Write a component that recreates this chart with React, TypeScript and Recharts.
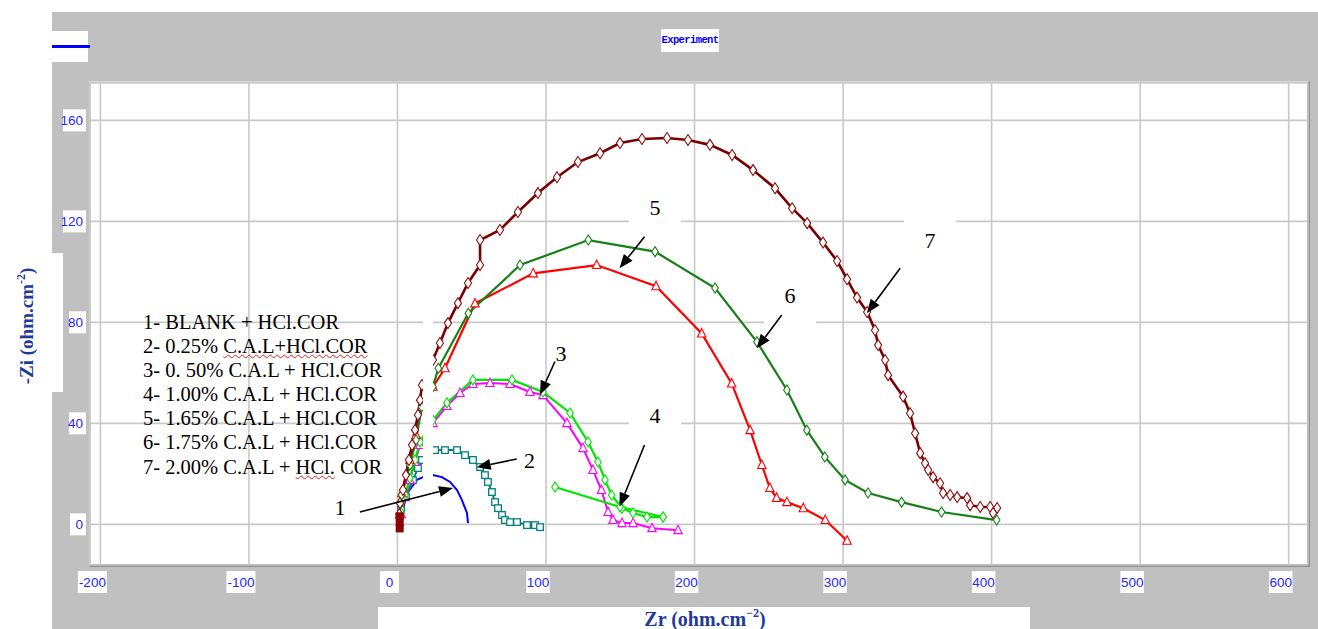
import React from 'react';
import {
  ComposedChart, Line, Scatter, XAxis, YAxis, CartesianGrid,
  ReferenceArea, ReferenceLine, ReferenceDot,
} from 'recharts';

// ---------- data (Zr, -Zi) in ohm.cm^-2 ----------
const X_TICKS = [-200, -100, 0, 100, 200, 300, 400, 500, 600];
const Y_TICKS = [0, 40, 80, 120, 160];

const S1_BLANK = [
  { x: 1.5, y: 2.5 }, { x: 4.4, y: 7.6 }, { x: 7, y: 12.8 }, { x: 9.8, y: 14.9 },
  { x: 13.1, y: 17.6 }, { x: 17.2, y: 18.7 }, { x: 23.9, y: 19.5 }, { x: 29.9, y: 18.7 },
  { x: 35.4, y: 16.8 }, { x: 40.1, y: 13.6 }, { x: 43.4, y: 9.6 }, { x: 46.8, y: 4.5 },
  { x: 47.5, y: 0.5 },
];
const S2_025 = [
  { x: 2.4, y: 5.7 }, { x: 5.7, y: 10.8 }, { x: 10.4, y: 17.5 }, { x: 13.8, y: 22.3 },
  { x: 16.5, y: 25.5 }, { x: 25.3, y: 29.4 }, { x: 32, y: 29.4 }, { x: 40.1, y: 29.4 },
  { x: 45.5, y: 27.4 }, { x: 50.8, y: 25.5 }, { x: 55.6, y: 22.7 }, { x: 58.9, y: 19.5 },
  { x: 60.9, y: 16.8 }, { x: 63.6, y: 12.8 }, { x: 65.7, y: 8.8 }, { x: 67.7, y: 6.4 },
  { x: 70.4, y: 3.7 }, { x: 72.4, y: 1.7 }, { x: 75.8, y: 0.9 }, { x: 80.5, y: 0.9 },
  { x: 87.2, y: -0.3 }, { x: 92.6, y: -0.3 }, { x: 96, y: -1.1 },
];
const S3_050 = [
  { x: 2.5, y: 4 }, { x: 5.1, y: 10.8 }, { x: 8.4, y: 17.6 }, { x: 11.8, y: 24.7 },
  { x: 15.2, y: 31.4 }, { x: 23.9, y: 40.1 }, { x: 33.3, y: 46.9 }, { x: 42.1, y: 52 },
  { x: 50.8, y: 55.6 }, { x: 62.3, y: 56 }, { x: 75.8, y: 55.6 }, { x: 89.2, y: 52.4 },
  { x: 98, y: 51.2 }, { x: 114.1, y: 40.1 }, { x: 124.9, y: 30.2 }, { x: 131.6, y: 21.5 },
  { x: 137.3, y: 13.6 }, { x: 141.8, y: 4.9 }, { x: 145.1, y: 1.7 }, { x: 151.2, y: 0.5 },
  { x: 158.6, y: 0.5 }, { x: 171.4, y: -1.5 }, { x: 188.9, y: -2.3 },
];
const S4_100 = [
  { x: 2.5, y: 4.5 }, { x: 5.1, y: 11.6 }, { x: 8.4, y: 18.3 }, { x: 11.8, y: 25.5 },
  { x: 15.2, y: 32.6 }, { x: 23.9, y: 41.3 }, { x: 33.3, y: 48.1 }, { x: 50.8, y: 57.2 },
  { x: 77.1, y: 57.2 }, { x: 98, y: 52.4 }, { x: 116.2, y: 44.1 }, { x: 128.3, y: 32.6 },
  { x: 135, y: 24.7 }, { x: 139.7, y: 17.6 }, { x: 144.2, y: 11.6 }, { x: 151.2, y: 6.4 },
  { x: 158.6, y: 4.5 }, { x: 168, y: 2.9 }, { x: 178.8, y: 2.9 },
];
const S4_100_TAIL = [
  { x: 106.1, y: 14.8 }, { x: 149.8, y: 6.9 }, { x: 178.8, y: 2.9 },
];
const S5_165 = [
  { x: 1.5, y: 4 }, { x: 2.8, y: 12.3 }, { x: 8.4, y: 25.5 }, { x: 12.5, y: 35.4 },
  { x: 16.3, y: 46.6 }, { x: 23.9, y: 54.5 }, { x: 32, y: 61.8 }, { x: 52.2, y: 87.5 },
  { x: 91.4, y: 99.4 }, { x: 134.1, y: 102.7 }, { x: 174.1, y: 94.3 }, { x: 204.8, y: 75.6 },
  { x: 225, y: 55.8 }, { x: 237.4, y: 37.3 }, { x: 245.3, y: 23.5 }, { x: 250.7, y: 14.4 },
  { x: 255.2, y: 10.5 }, { x: 262.2, y: 8.8 }, { x: 273.2, y: 6.4 }, { x: 288, y: 1.7 },
  { x: 302.7, y: -6.5 },
];
const S6_175 = [
  { x: 1.5, y: 4 }, { x: 2.8, y: 11.6 }, { x: 8.4, y: 23.5 }, { x: 12.5, y: 33.4 },
  { x: 16.3, y: 46.6 }, { x: 23.9, y: 54.5 }, { x: 27.5, y: 61.8 }, { x: 47.7, y: 83.6 },
  { x: 82.5, y: 102.7 }, { x: 128.5, y: 112.6 }, { x: 173.4, y: 108 }, { x: 213.8, y: 93.6 },
  { x: 242, y: 72.3 }, { x: 262.2, y: 53.2 }, { x: 275.6, y: 37.3 }, { x: 287.7, y: 26.7 },
  { x: 301.3, y: 17.6 }, { x: 316.8, y: 12.4 }, { x: 339.4, y: 8.8 }, { x: 366.3, y: 4.9 },
  { x: 403.4, y: 1.7 },
];
const S7_200 = [
  { x: 1.2, y: 4 }, { x: 1.7, y: 8.4 }, { x: 3.7, y: 13.6 }, { x: 5.7, y: 19.5 }, { x: 7.7, y: 25.5 },
  { x: 9.8, y: 31.4 }, { x: 11.8, y: 37.4 }, { x: 13.8, y: 43.3 }, { x: 15.2, y: 49.2 },
  { x: 16.5, y: 55.2 }, { x: 23.9, y: 65.1 }, { x: 28.6, y: 71.8 }, { x: 34, y: 79.7 },
  { x: 40.7, y: 87.6 }, { x: 47.5, y: 95.6 }, { x: 55.6, y: 102.7 }, { x: 55.6, y: 112.6 },
  { x: 69, y: 116.6 }, { x: 81.1, y: 123.7 }, { x: 94.6, y: 131.2 }, { x: 107.4, y: 137.5 },
  { x: 121.5, y: 143.5 }, { x: 136.4, y: 147 }, { x: 149.8, y: 151 }, { x: 164.6, y: 152.6 },
  { x: 181.5, y: 153 }, { x: 195.6, y: 152.2 }, { x: 210.4, y: 150.3 }, { x: 225.3, y: 146.3 },
  { x: 239.4, y: 140.3 }, { x: 254.2, y: 133.1 }, { x: 265.7, y: 125.2 }, { x: 275.8, y: 119.3 },
  { x: 286.5, y: 111.6 }, { x: 296, y: 104.3 }, { x: 302.7, y: 97.1 }, { x: 309.4, y: 89.8 },
  { x: 316.2, y: 84.1 }, { x: 321.5, y: 76.9 }, { x: 323.6, y: 71 }, { x: 328.3, y: 65.1 },
  { x: 330.3, y: 59.1 }, { x: 340.4, y: 50.6 }, { x: 345.1, y: 44 }, { x: 348.5, y: 36.1 },
  { x: 351.9, y: 28.2 }, { x: 355.2, y: 24.2 }, { x: 357.3, y: 21.5 }, { x: 360.6, y: 18.7 },
  { x: 365.3, y: 16.3 }, { x: 367.3, y: 12.4 }, { x: 372.1, y: 11.6 }, { x: 376.8, y: 10.8 },
  { x: 383.5, y: 10.4 }, { x: 385.5, y: 7.6 }, { x: 392.3, y: 6.9 }, { x: 399, y: 6.9 },
  { x: 403.7, y: 6.5 }, { x: 401, y: 4.5 },
];
const ORIGIN_POINTS = [{ x: 1.5, y: 3.2 }, { x: 1.5, y: 0.8 }, { x: 1.5, y: -1.6 }];

const LEGEND_LINES = [
  '1- BLANK + HCl.COR',
  '2- 0.25% C.A.L+HCl.COR',
  '3- 0. 50% C.A.L + HCl.COR',
  '4- 1.00% C.A.L + HCl.COR',
  '5- 1.65% C.A.L + HCl.COR',
  '6- 1.75% C.A.L + HCl.COR',
  '7- 2.00% C.A.L + HCl. COR',
];

// annotation labels and arrows, in data units
const LABELS = [
  { t: '1', x: -38.7, y: 6.9 }, { t: '2', x: 88.9, y: 25.5 }, { t: '3', x: 110.1, y: 68 },
  { t: '4', x: 173.4, y: 43.4 }, { t: '5', x: 173.4, y: 125.7 }, { t: '6', x: 264.3, y: 90.8 },
  { t: '7', x: 358.6, y: 112.6 },
];
const ARROWS = [
  [{ x: -25.3, y: 4.9 }, { x: 37.4, y: 14.4 }],
  [{ x: 80.3, y: 25.9 }, { x: 53.3, y: 22.6 }],
  [{ x: 106, y: 64.5 }, { x: 96, y: 51.3 }],
  [{ x: 166.3, y: 31.4 }, { x: 149.5, y: 7 }],
  [{ x: 166.3, y: 113.9 }, { x: 149.5, y: 101.4 }],
  [{ x: 258.7, y: 82.9 }, { x: 241.9, y: 69.7 }],
  [{ x: 338.4, y: 101.4 }, { x: 316, y: 83.6 }],
];
const LABEL_BOXES = ['4', '5', '6', '7'];

// ---------- marker shapes ----------
const diamond = (color: string, hw: number, hh: number) => (p: any) => {
  const { cx, cy, index } = p;
  if (cx == null || cy == null) return <g key={`d${index}`} />;
  return (
    <path key={`d${index}`} d={`M${cx},${cy - hh}L${cx + hw},${cy}L${cx},${cy + hh}L${cx - hw},${cy}Z`}
      fill="#fff" stroke={color} strokeWidth={1.1} />
  );
};
const triangle = (color: string) => (p: any) => {
  const { cx, cy, index } = p;
  if (cx == null || cy == null) return <g key={`t${index}`} />;
  return (
    <path key={`t${index}`} d={`M${cx},${cy - 5}L${cx + 4.2},${cy + 3.5}L${cx - 4.2},${cy + 3.5}Z`}
      fill="#fff" stroke={color} strokeWidth={1.1} />
  );
};
const square = (color: string) => (p: any) => {
  const { cx, cy, index } = p;
  if (cx == null || cy == null) return <g key={`s${index}`} />;
  return <rect key={`s${index}`} x={cx - 3.3} y={cy - 3.3} width={6.6} height={6.6} fill="#fff" stroke={color} strokeWidth={1.3} />;
};

const TICK_FONT = "'Liberation Sans Narrow', 'Arial Narrow', 'Liberation Sans', sans-serif";
const TICK_COLOR = '#2626ff';

const XTick = (p: any) => {
  const { x, y, payload } = p;
  const label = String(payload.value);
  const w = Math.max(19, label.length * 5.5 + 7);
  const cx = x - 8;
  return (
    <g>
      <rect x={cx - w / 2} y={y + 6} width={w} height={22} fill="#fff" />
      <text x={cx} y={y + 22} textAnchor="middle" fontSize={13.5} fill={TICK_COLOR} fontFamily={TICK_FONT}>{label}</text>
    </g>
  );
};
const YTick = (p: any) => {
  const { x, y, payload } = p;
  const label = String(payload.value);
  const w = Math.max(16, label.length * 6 + 5);
  return (
    <g>
      <rect x={x - 4 - w} y={y - 11} width={w} height={22} fill="#fff" />
      <text x={x - 7} y={y + 4.8} textAnchor="end" fontSize={13.5} fill={TICK_COLOR} fontFamily={TICK_FONT}>{label}</text>
    </g>
  );
};

const ArrowShape = (p: any) => {
  const { x1, y1, x2, y2 } = p;
  if ([x1, y1, x2, y2].some((v) => v == null || isNaN(v))) return <g />;
  const a = Math.atan2(y2 - y1, x2 - x1);
  const L = 14, W = 5.5;
  const bx = x2 - L * Math.cos(a), by = y2 - L * Math.sin(a);
  const px = -Math.sin(a), py = Math.cos(a);
  return (
    <g>
      <line x1={x1} y1={y1} x2={bx} y2={by} stroke="#000" strokeWidth={1.6} />
      <path d={`M${x2},${y2}L${bx + W * px},${by + W * py}L${bx - W * px},${by - W * py}Z`} fill="#000" />
    </g>
  );
};

const SERIF = "'Liberation Serif', 'Times New Roman', serif";
const AXIS_LABEL_COLOR = '#1f3b9a';

export default function App() {
  return (
    <div style={{ position: 'absolute', left: 0, top: 0, width: 1318, height: 629, background: '#fff', overflow: 'hidden' }}>
      {/* gray frame */}
      <div style={{ position: 'absolute', left: 52, top: 12, width: 1266, height: 617, background: '#c0c0c0' }} />
      {/* plot frame */}
      <div style={{
        position: 'absolute', left: 89, top: 81, width: 1221, height: 486, boxSizing: 'border-box', background: '#fff',
        borderTop: '2px solid #d6d6d6', borderLeft: '2px solid #d6d6d6', borderRight: '3px solid #8f8f8f', borderBottom: '3px solid #8f8f8f',
      }} />
      {/* legend swatch top-left */}
      <div style={{ position: 'absolute', left: 52, top: 31, width: 36, height: 31, background: '#fff' }} />
      <div style={{ position: 'absolute', left: 52, top: 45, width: 38, height: 3, background: '#0000ff' }} />
      {/* title */}
      <div style={{
        position: 'absolute', left: 661, top: 29, width: 58, height: 23, background: '#fff', color: '#0000ff',
        fontFamily: "'Liberation Mono', 'DejaVu Sans Mono', monospace", fontWeight: 'bold', fontSize: 10.5,
        lineHeight: '23px', textAlign: 'center', letterSpacing: -0.6,
      }}>Experiment</div>
      {/* axis label boxes */}
      <div style={{ position: 'absolute', left: 52, top: 253, width: 11, height: 139, background: '#fff' }} />
      <div style={{ position: 'absolute', left: 378, top: 607, width: 652, height: 22, background: '#fff' }} />

      <div style={{ position: 'absolute', left: 0, top: 0 }}>
        <ComposedChart width={1318} height={629} margin={{ top: 83, right: 10, bottom: 34, left: 30 }}>
          <CartesianGrid stroke="#c9c9c9" strokeWidth={1.6} fill="none" />
          <XAxis type="number" dataKey="x" domain={[-207, 613]} ticks={X_TICKS} allowDataOverflow
            axisLine={false} tickLine={false} tickSize={0} tickMargin={0} height={30} tick={<XTick />} interval={0} />
          <YAxis type="number" dataKey="y" domain={[-16.1, 174.8]} ticks={Y_TICKS} allowDataOverflow
            axisLine={false} tickLine={false} tickSize={0} tickMargin={0} width={60} tick={<YTick />} interval={0} />

          {LABEL_BOXES.map((t) => {
            const l = LABELS.find((q) => q.t === t)!;
            return (
              <ReferenceArea key={`box${t}`} x1={l.x - 17.5} x2={l.x + 17.5} y1={l.y - 11.9} y2={l.y + 11.9}
                fill="#fff" fillOpacity={1} stroke="none" ifOverflow="visible" />
            );
          })}

          <Line data={S1_BLANK} dataKey="y" stroke="#0000ff" strokeWidth={2} dot={false} activeDot={false} isAnimationActive={false} />
          <Line data={S2_025} dataKey="y" stroke="#008080" strokeWidth={2} dot={square('#008080')} activeDot={false} isAnimationActive={false} />
          <Line data={S3_050} dataKey="y" stroke="#ff00ff" strokeWidth={2} dot={triangle('#ff00ff')} activeDot={false} isAnimationActive={false} />
          <Line data={S4_100} dataKey="y" stroke="#00e600" strokeWidth={2.2} dot={diamond('#00e600', 3.3, 5)} activeDot={false} isAnimationActive={false} />
          <Line data={S4_100_TAIL} dataKey="y" stroke="#00e600" strokeWidth={2.2} dot={diamond('#00e600', 3.3, 5)} activeDot={false} isAnimationActive={false} />
          <Line data={S5_165} dataKey="y" stroke="#ff0000" strokeWidth={2.2} dot={triangle('#ff0000')} activeDot={false} isAnimationActive={false} />
          <Line data={S6_175} dataKey="y" stroke="#168016" strokeWidth={2.2} dot={diamond('#168016', 3.3, 5)} activeDot={false} isAnimationActive={false} />
          <Line data={S7_200} dataKey="y" stroke="#7a0000" strokeWidth={2.6} dot={diamond('#8a1010', 3.6, 5.5)} activeDot={false} isAnimationActive={false} />
          <Scatter data={ORIGIN_POINTS} dataKey="y" isAnimationActive={false}
            shape={(p: any) => <rect x={p.cx - 4} y={p.cy - 4} width={8} height={8} fill="#8b0000" />} />

          {/* white gap strip near the origin */}
          <ReferenceArea x1={17.2} x2={23.9} y1={14.8} y2={88.8} fill="#fff" fillOpacity={1} stroke="none" zIndex={1500} ifOverflow="visible" />

          {ARROWS.map((seg, i) => (
            <ReferenceLine key={`ar${i}`} segment={seg} stroke="#000" ifOverflow="visible" zIndex={1600} shape={<ArrowShape />} />
          ))}
          {LABELS.map((l) => (
            <ReferenceDot key={`lb${l.t}`} x={l.x} y={l.y} r={0} ifOverflow="visible" zIndex={1700}
              shape={(p: any) => (
                <text x={p.cx} y={p.cy + 8} textAnchor="middle" fontSize={22} fontFamily={SERIF} fill="#000">{l.t}</text>
              )} />
          ))}
        </ComposedChart>
      </div>

      {/* legend text block */}
      <div style={{
        position: 'absolute', left: 143, top: 309.6, fontFamily: SERIF, fontSize: 20.5, lineHeight: '24.17px',
        color: '#000', whiteSpace: 'pre',
      }}>
        {LEGEND_LINES.map((line, i) => {
          if (i === 1) {
            return <div key={i}>2- 0.25% <span style={{ textDecoration: 'underline wavy #e02020', textDecorationThickness: 1 }}>C.A.L+HCl.COR</span></div>;
          }
          if (i === 6) {
            return <div key={i}>7- 2.00% C.A.L + <span style={{ textDecoration: 'underline wavy #e02020', textDecorationThickness: 1 }}>HCl.</span> COR</div>;
          }
          return <div key={i}>{line}</div>;
        })}
      </div>

      {/* y axis label */}
      <div style={{
        position: 'absolute', left: 27 - 100, top: 326 - 12, width: 200, height: 24, lineHeight: '24px',
        textAlign: 'center', transform: 'rotate(-90deg)', fontFamily: SERIF, fontWeight: 'bold', fontSize: 19,
        color: AXIS_LABEL_COLOR, whiteSpace: 'nowrap',
      }}>
        -Zi (ohm.cm<span style={{ fontSize: 12, position: 'relative', top: -8 }}>-2</span>)
      </div>
      {/* x axis label */}
      <div style={{
        position: 'absolute', left: 705 - 150, top: 606, width: 300, height: 26, lineHeight: '26px',
        textAlign: 'center', fontFamily: SERIF, fontWeight: 'bold', fontSize: 20, color: AXIS_LABEL_COLOR, whiteSpace: 'nowrap',
      }}>
        Zr (ohm.cm<span style={{ fontSize: 12, position: 'relative', top: -9 }}>−2</span>)
      </div>
    </div>
  );
}
